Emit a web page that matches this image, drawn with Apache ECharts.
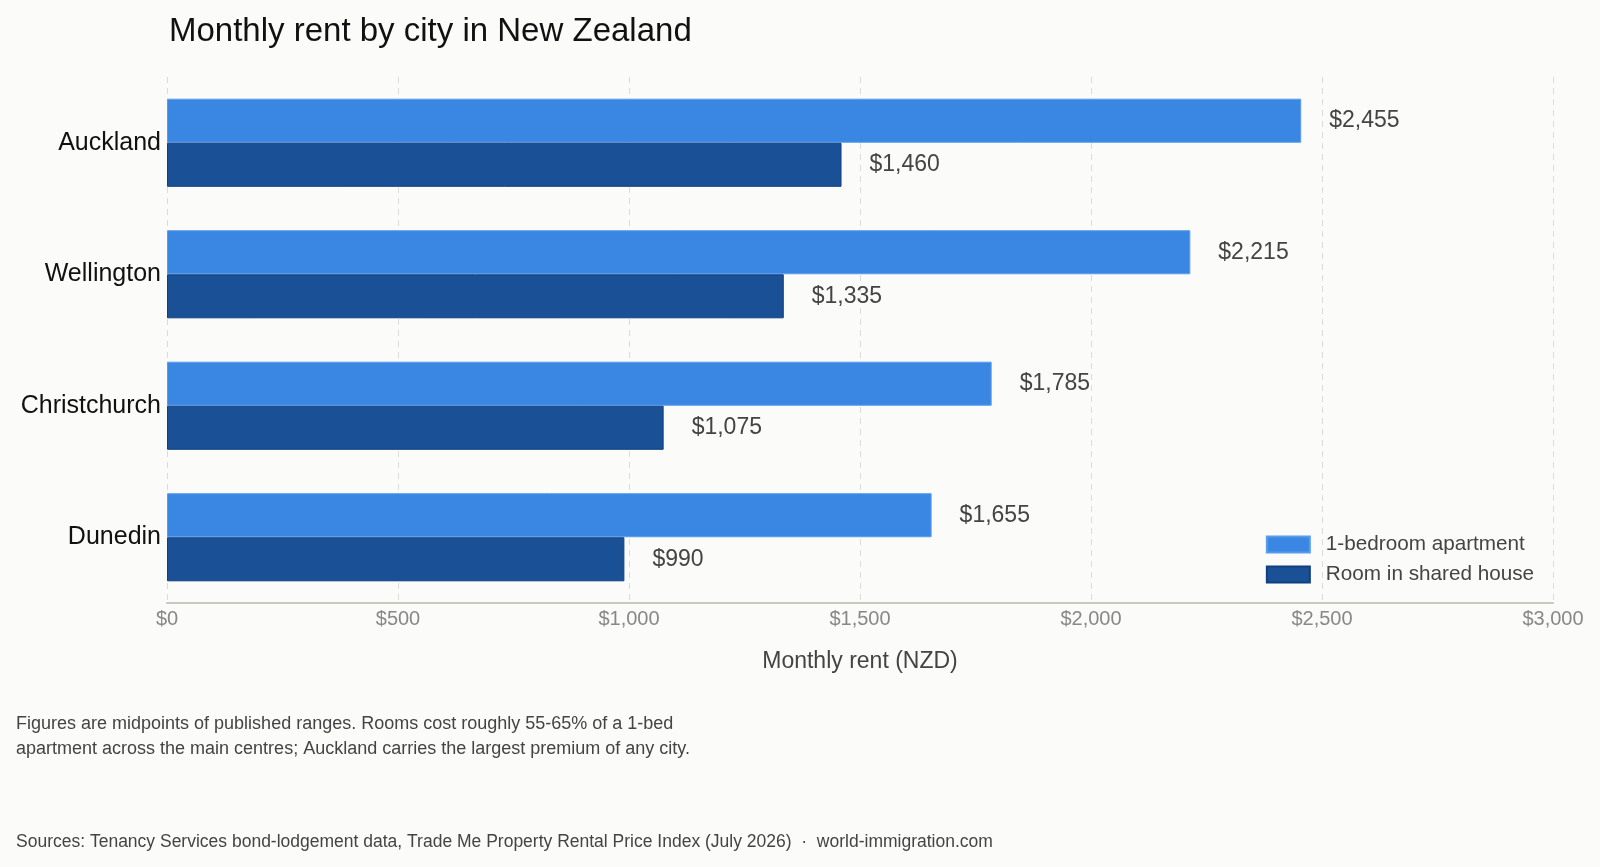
<!DOCTYPE html>
<html>
<head>
<meta charset="utf-8">
<script src="https://cdn.jsdelivr.net/npm/echarts@6/dist/echarts.min.js"></script>
<style>
  html, body { margin: 0; padding: 0; background: #fbfbf9; }
  #rent-bar { width: 1600px; height: 867px; }
</style>
</head>
<body>
<div id="rent-bar"></div>
<script>
var cities = ['Auckland', 'Wellington', 'Christchurch', 'Dunedin']
var apartment = [2455, 2215, 1785, 1655]
var room = [1460, 1335, 1075, 990]
var xTicks = [0, 500, 1000, 1500, 2000, 2500, 3000]

var FONT = '"Liberation Sans", Arial, sans-serif'
var rentBar = echarts.init(document.getElementById('rent-bar'))

function money(v) {
  return '$' + Number(v).toLocaleString('en-US')
}

function renderRentBar() {
  var option = {
    backgroundColor: '#fbfbf9',
    textStyle: { fontFamily: FONT },
    title: {
      text: 'Monthly rent by city in New Zealand',
      left: 164,
      top: 10,
      textStyle: { fontSize: 33, fontWeight: 'normal', color: '#111', fontFamily: FONT }
    },
    legend: {
      orient: 'vertical',
      right: 66,
      top: 534,
      padding: 0,
      itemWidth: 43,
      itemHeight: 16,
      itemGap: 9,
      icon: 'rect',
      textStyle: { fontSize: 20.7, color: '#444', fontFamily: FONT, padding: [0, 0, 0, 11] },
      data: ['1-bedroom apartment', 'Room in shared house']
    },
    grid: { left: 167, right: 47, top: 77, bottom: 264 },
    xAxis: {
      type: 'value',
      min: xTicks[0],
      max: xTicks[xTicks.length - 1],
      interval: 500,
      name: 'Monthly rent (NZD)',
      nameLocation: 'middle',
      nameGap: 47,
      nameTextStyle: { fontSize: 23, color: '#444', fontFamily: FONT },
      axisLine: { show: true, lineStyle: { color: '#c8c8bc', width: 2 } },
      axisTick: { show: false },
      axisLabel: { fontSize: 20, color: '#888', margin: 6, formatter: money },
      splitLine: { show: true, lineStyle: { type: [6, 5], color: '#dedcd6', width: 1 } }
    },
    yAxis: {
      type: 'category',
      inverse: true,
      data: cities,
      axisLine: { show: false },
      axisTick: { show: false },
      axisLabel: { fontSize: 25, color: '#111', margin: 6 }
    },
    series: [
      {
        name: '1-bedroom apartment',
        type: 'bar',
        data: apartment,
        barGap: '0%',
        barCategoryGap: '33%',
        itemStyle: { color: '#3987e3', borderColor: '#5a9cec', borderWidth: 1 },
        label: {
          show: true, position: 'right', distance: 28,
          fontSize: 23, color: '#444',
          formatter: function (p) { return money(p.value) }
        }
      },
      {
        name: 'Room in shared house',
        type: 'bar',
        data: room,
        itemStyle: { color: '#1a5095', borderColor: '#123f80', borderWidth: 1 },
        label: {
          show: true, position: 'right', distance: 28,
          fontSize: 23, color: '#444',
          formatter: function (p) { return money(p.value) }
        }
      }
    ],
    graphic: [
      {
        type: 'text', left: 16, top: 712,
        style: {
          text: 'Figures are midpoints of published ranges. Rooms cost roughly 55-65% of a 1-bed\napartment across the main centres; Auckland carries the largest premium of any city.',
          fontSize: 18, lineHeight: 25, fill: '#444', fontFamily: FONT
        }
      },
      {
        type: 'text', left: 16, top: 833,
        style: {
          text: 'Sources: Tenancy Services bond-lodgement data, Trade Me Property Rental Price Index (July 2026)  \u00b7  world-immigration.com',
          fontSize: 17.5, fill: '#444', fontFamily: FONT
        }
      }
    ]
  }
  rentBar.setOption(option)
}

renderRentBar()
</script>
</body>
</html>
